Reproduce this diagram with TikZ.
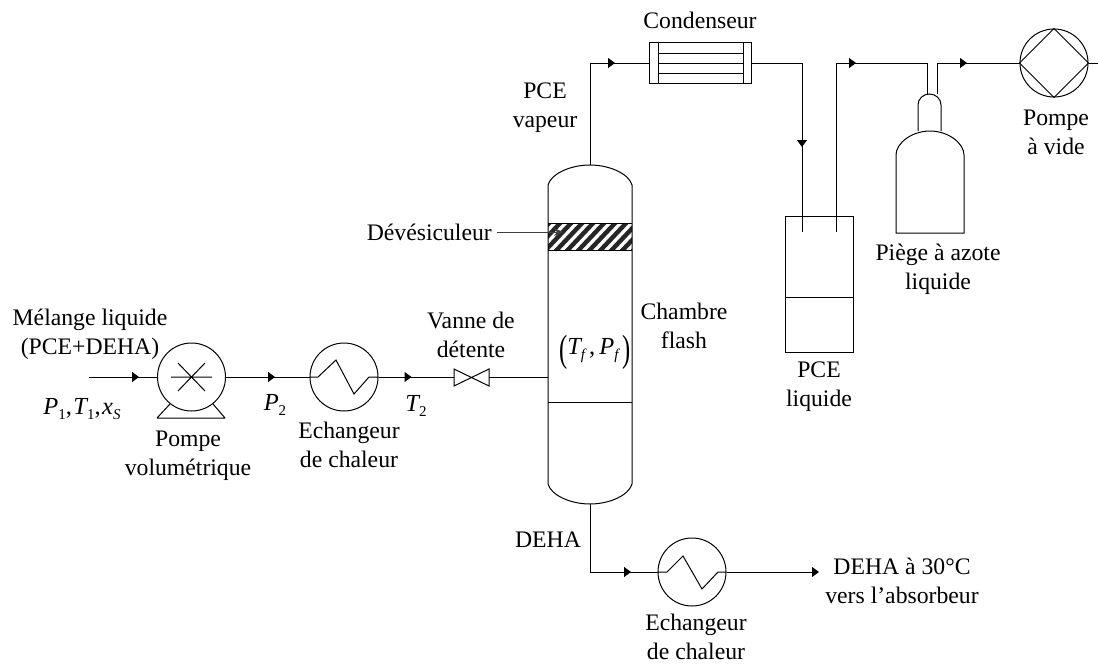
\documentclass[tikz,border=0pt]{standalone}
\usepackage{fontspec}
\setmainfont{Liberation Serif}
\usetikzlibrary{arrows.meta,decorations.markings}
\newcommand{\sbn}[1]{\raisebox{-5pt}{\fontsize{15}{15}\selectfont\upshape #1}}
\newcommand{\sbi}[1]{\raisebox{-5pt}{\fontsize{15}{15}\selectfont\itshape #1}}
\newcommand{\tallp}[1]{\raisebox{-6.5pt}{\scalebox{1}[1.55]{\upshape #1}}}
\tikzset{
  pipe/.style={line width=1pt,line join=miter},
  flow/.style={pipe,postaction={decorate},decoration={markings,mark=at position #1 with {\arrow{Triangle[length=7pt,width=10pt]}}}},
  lbl/.style={font=\fontsize{23.7}{29}\selectfont,align=center,inner sep=0pt},
  sym/.style={lbl,font=\fontsize{24.5}{29}\selectfont\itshape},
  equip/.style={circle,draw,line width=1pt,minimum size=68pt,inner sep=0pt},
}
\begin{document}
\begin{tikzpicture}[x=1pt,y=-1pt]
\useasboundingbox (0,0) rectangle (1098,664);
\fill[white] (0,0) rectangle (1098,664);
% equipment circles
\node[equip] (pump) at (191.5,377) {};
\node[equip] (hxa) at (344,377) {};
\node[equip] (hxb) at (692,572) {};
\node[equip] (vac) at (1054,63) {};
% free coordinates
\coordinate (in) at (89,377);
\coordinate (colin) at (548,377);
\coordinate (coltop) at (590,165);
\coordinate (colbot) at (590,504);
\coordinate (outb) at (819,572);
\coordinate (vacout) at (1098,63);
\coordinate (vl) at (454,377);
\coordinate (vr) at (489,377);
\coordinate (condL) at (649,63);
\coordinate (condR) at (751,63);
\coordinate (sepa) at (802,232);
\coordinate (sepb) at (836,232);
\coordinate (ta) at (927,94);
\coordinate (tb) at (937,94);
% pump details
\draw[pipe] (157,418) -- (225,418) (157,418) -- (170,404) (225,418) -- (213,404);
\draw[pipe] (171,377) -- (212,377) (178,363) -- (205,391) (178,391) -- (205,363);
% exchangers
\draw[pipe] (hxa.west) -- (318,377) -- (336,360) -- (354,394) -- (369,377) -- (hxa.east);
\draw[pipe] (hxb.west) -- (667,572) -- (683,556) -- (702,589) -- (718,572) -- (hxb.east);
% vacuum pump diamond
\draw[pipe] (vac.west) -- (vac.north) -- (vac.east) -- (vac.south) -- cycle;
% valve
\draw[pipe] (454,369) -- (489,386) -- (489,369) -- (454,386) -- cycle;
% column
\begin{scope}
\clip (548,223.5) rectangle (632,250);
\fill[white] (548,223.5) rectangle (632,250);
\foreach \i in {0,...,11} {
  \draw[line width=4.4pt,black!85] ({520+\i*11},254) -- ({520+\i*11+32},220);
}
\end{scope}
\draw[pipe] (548,223.5) -- (632,223.5) (548,250) -- (632,250) (548,402) -- (632,402);
\draw[pipe] (548,185) .. controls (551,174) and (570,165) .. (590,165) .. controls (610,165) and (629,174) .. (632,185)
  -- (632,484) .. controls (629,495) and (610,504) .. (590,504) .. controls (570,504) and (551,495) .. (548,484) -- cycle;
% condenser
\draw[pipe] (649,42) rectangle (751,83);
\draw[pipe] (658,42) -- (658,83) (743,42) -- (743,83);
\draw[pipe] (658,53) -- (743,53) (658,63) -- (743,63) (658,73) -- (743,73);
% separator
\draw[pipe] (785,216) rectangle (853,352);
\draw[pipe] (785,297) -- (853,297);
% trap
\draw[pipe] (896,233) -- (896,155) .. controls (896,143) and (912,131) .. (930,131) .. controls (948,131) and (964,143) .. (964,155) -- (964,233) -- cycle;
\draw[pipe] (918,131) -- (918,105) .. controls (918,99) and (923,94) .. (929.5,94) .. controls (936,94) and (941,99) .. (941,105) -- (941,131);
% pipes
\draw[flow=50pt] (in) -- (pump.west);
\draw[flow=49pt] (pump.east) -- (hxa.west);
\draw[flow=33pt] (hxa.east) -- (vl);
\draw[pipe] (vr) -- (colin);
\draw[flow=127pt] (coltop) |- (condL);
\draw[flow=135pt] (condR) -| (sepa);
\draw[flow=189pt] (sepb) -- (836,63) -- (927,63) -- (ta);
\draw[flow=61pt] (tb) -- (937,63) -- (vac.west);
\draw[pipe] (vac.east) -- (vacout);
\draw[flow=109pt] (colbot) -- (590,572) -- (hxb.west);
\draw[pipe,-{Triangle[length=7pt,width=10pt]}] (hxb.east) -- (outb);
% demister pointer
\node[lbl,anchor=east] (dem) at (492,232) {Dévésiculeur};
\coordinate (demtip) at (563,232);
\draw[-{Stealth[length=9pt,width=8pt]},line width=1pt,black!75] ([xshift=5pt]dem.east) -- (demtip);
% labels
\node[lbl] (t1) at (90,334.5) {Mélange liquide\\(PCE+DEHA)};
\node[sym] (t2) at (82,409) {P\sbn{1}\upshape,\kern1.5pt\itshape T\sbn{1}\upshape,\kern1.5pt\itshape x\sbi{S}};
\node[lbl] (t3) at (188,456) {Pompe\\volumétrique};
\node[sym] (t4) at (275,405) {P\sbn{2}};
\node[lbl] (t5) at (349,445) {Echangeur\\de chaleur};
\node[sym] (t6) at (416,406) {T\sbn{2}};
\node[lbl] (t7) at (471,334.5) {Vanne de\\détente};
\node[sym] (t8) at (595,352) {\tallp{(}T\sbi{f}\upshape\,,\itshape\,P\sbi{f}\,\tallp{)}};
\node[lbl] (t9) at (684,326) {Chambre\\flash};
\node[lbl] (t10) at (545,108) {PCE\\vapeur};
\node[lbl] (t11) at (700,20) {Condenseur};
\node[lbl] (t12) at (819,387) {PCE\\liquide};
\node[lbl] (t13) at (938,269) {Piège à azote\\liquide};
\node[lbl] (t14) at (1056,132) {Pompe\\à vide};
\node[lbl] (t15) at (548,540) {DEHA};
\node[lbl] (t16) at (902,581) {DEHA à 30°C\\vers l’absorbeur};
\node[lbl] (t17) at (696,637) {Echangeur\\de chaleur};
\end{tikzpicture}
\end{document}
